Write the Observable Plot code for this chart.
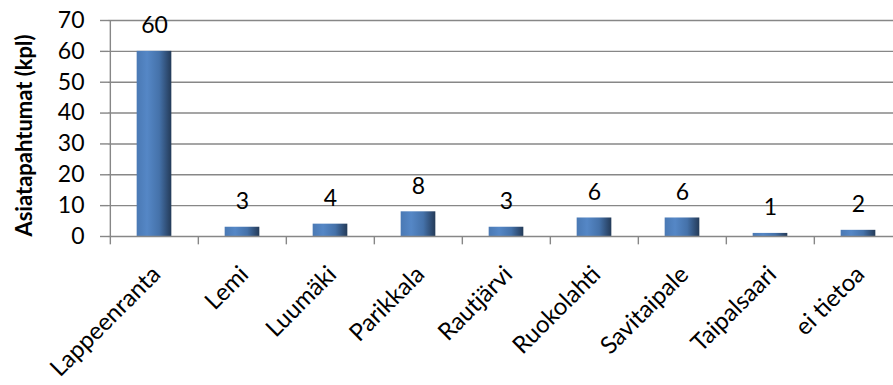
<!DOCTYPE html>
<html>
<head>
<meta charset="utf-8">
<script src="https://cdn.jsdelivr.net/npm/d3@7"></script>
<script src="https://cdn.jsdelivr.net/npm/@observablehq/plot@0.6"></script>
<style>
  html, body { margin: 0; padding: 0; background: #ffffff; }
  #chart svg { display: block; font-family: Lato, "Open Sans", sans-serif; }
</style>
</head>
<body>
<div id="chart"></div>
<script>
// Asiatapahtumat kunnittain
const municipalities = ["Lappeenranta", "Lemi", "Luumäki", "Parikkala", "Rautjärvi", "Ruokolahti", "Savitaipale", "Taipalsaari", "ei tietoa"];
const counts = [60, 3, 4, 8, 3, 6, 6, 1, 2];
const yTicks = [0, 10, 20, 30, 40, 50, 60, 70];
const yTitle = "Asiatapahtumat (kpl)";

const data = municipalities.map((name, i) => ({name, count: counts[i]}));

const W = 893, H = 385;
const x0 = 108, x1 = 903;             // band range (last band runs past the right edge)
const step = (x1 - x0) / municipalities.length;
const barInset = (step - 35) / 2;
const gridColor = "#878787";
const tickDrop = -2.7;                // how far the category ticks hang below zero, in y units

const chart = Plot.plot({
  width: W,
  height: H,
  marginLeft: x0,
  marginRight: 0,
  marginTop: 20,
  marginBottom: H - 236,
  style: {fontFamily: "Lato, 'Open Sans', sans-serif", overflow: "hidden"},
  x: {type: "band", domain: municipalities, range: [x0, x1], padding: 0, axis: null},
  y: {domain: [0, 70], range: [236, 20], axis: null},
  marks: [
    // horizontal gridlines
    Plot.ruleY(yTicks.filter(d => d > 0), {stroke: gridColor, strokeWidth: 1.4}),
    // bars
    Plot.barY(data, {x: "name", y: "count", fill: "url(#barGrad)", insetLeft: barInset, insetRight: barInset}),
    // baseline
    Plot.ruleY([0], {stroke: gridColor, strokeWidth: 1.4}),
    // vertical axis line
    Plot.ruleX([municipalities[0]], {dx: -step / 2, y1: 0, y2: 70, stroke: gridColor, strokeWidth: 1.4}),
    // category boundary ticks
    Plot.ruleX(data, {x: "name", dx: -step / 2, y1: 0, y2: tickDrop, stroke: gridColor, strokeWidth: 1.4}),
    // value labels
    Plot.text(data, {x: "name", y: "count", text: d => String(d.count), lineAnchor: "bottom", dy: -18, fontSize: 23, fill: "black"}),
    // rotated category labels
    Plot.text(data, {x: "name", y: () => 0, text: "name", rotate: -45, textAnchor: "end", lineAnchor: "middle", dx: 2, dy: 34, fontSize: 24, fill: "black"}),
    // y axis tick labels
    Plot.axisY(yTicks, {tickSize: 8, tickPadding: 16, fontSize: 23, stroke: gridColor, strokeWidth: 1.4, color: "black", fill: "black", label: null}),
    // y axis title
    Plot.text([yTitle], {frameAnchor: "left", rotate: -90, textAnchor: "middle", lineAnchor: "middle", dx: -84, dy: 7, fontSize: 22, fontWeight: "bold", fill: "black"})
  ]
});

// gradient for the bars: light blue on the left shading to dark navy on the right
const svg = d3.select(chart);
svg.insert("defs", ":first-child").html(`
  <linearGradient id="barGrad" x1="0" y1="0" x2="1" y2="0">
    <stop offset="0%" stop-color="#4a79b4"/>
    <stop offset="30%" stop-color="#5587c6"/>
    <stop offset="65%" stop-color="#4572aa"/>
    <stop offset="88%" stop-color="#2f4d74"/>
    <stop offset="100%" stop-color="#243b58"/>
  </linearGradient>`);

document.getElementById("chart").appendChild(chart);
</script>
</body>
</html>
